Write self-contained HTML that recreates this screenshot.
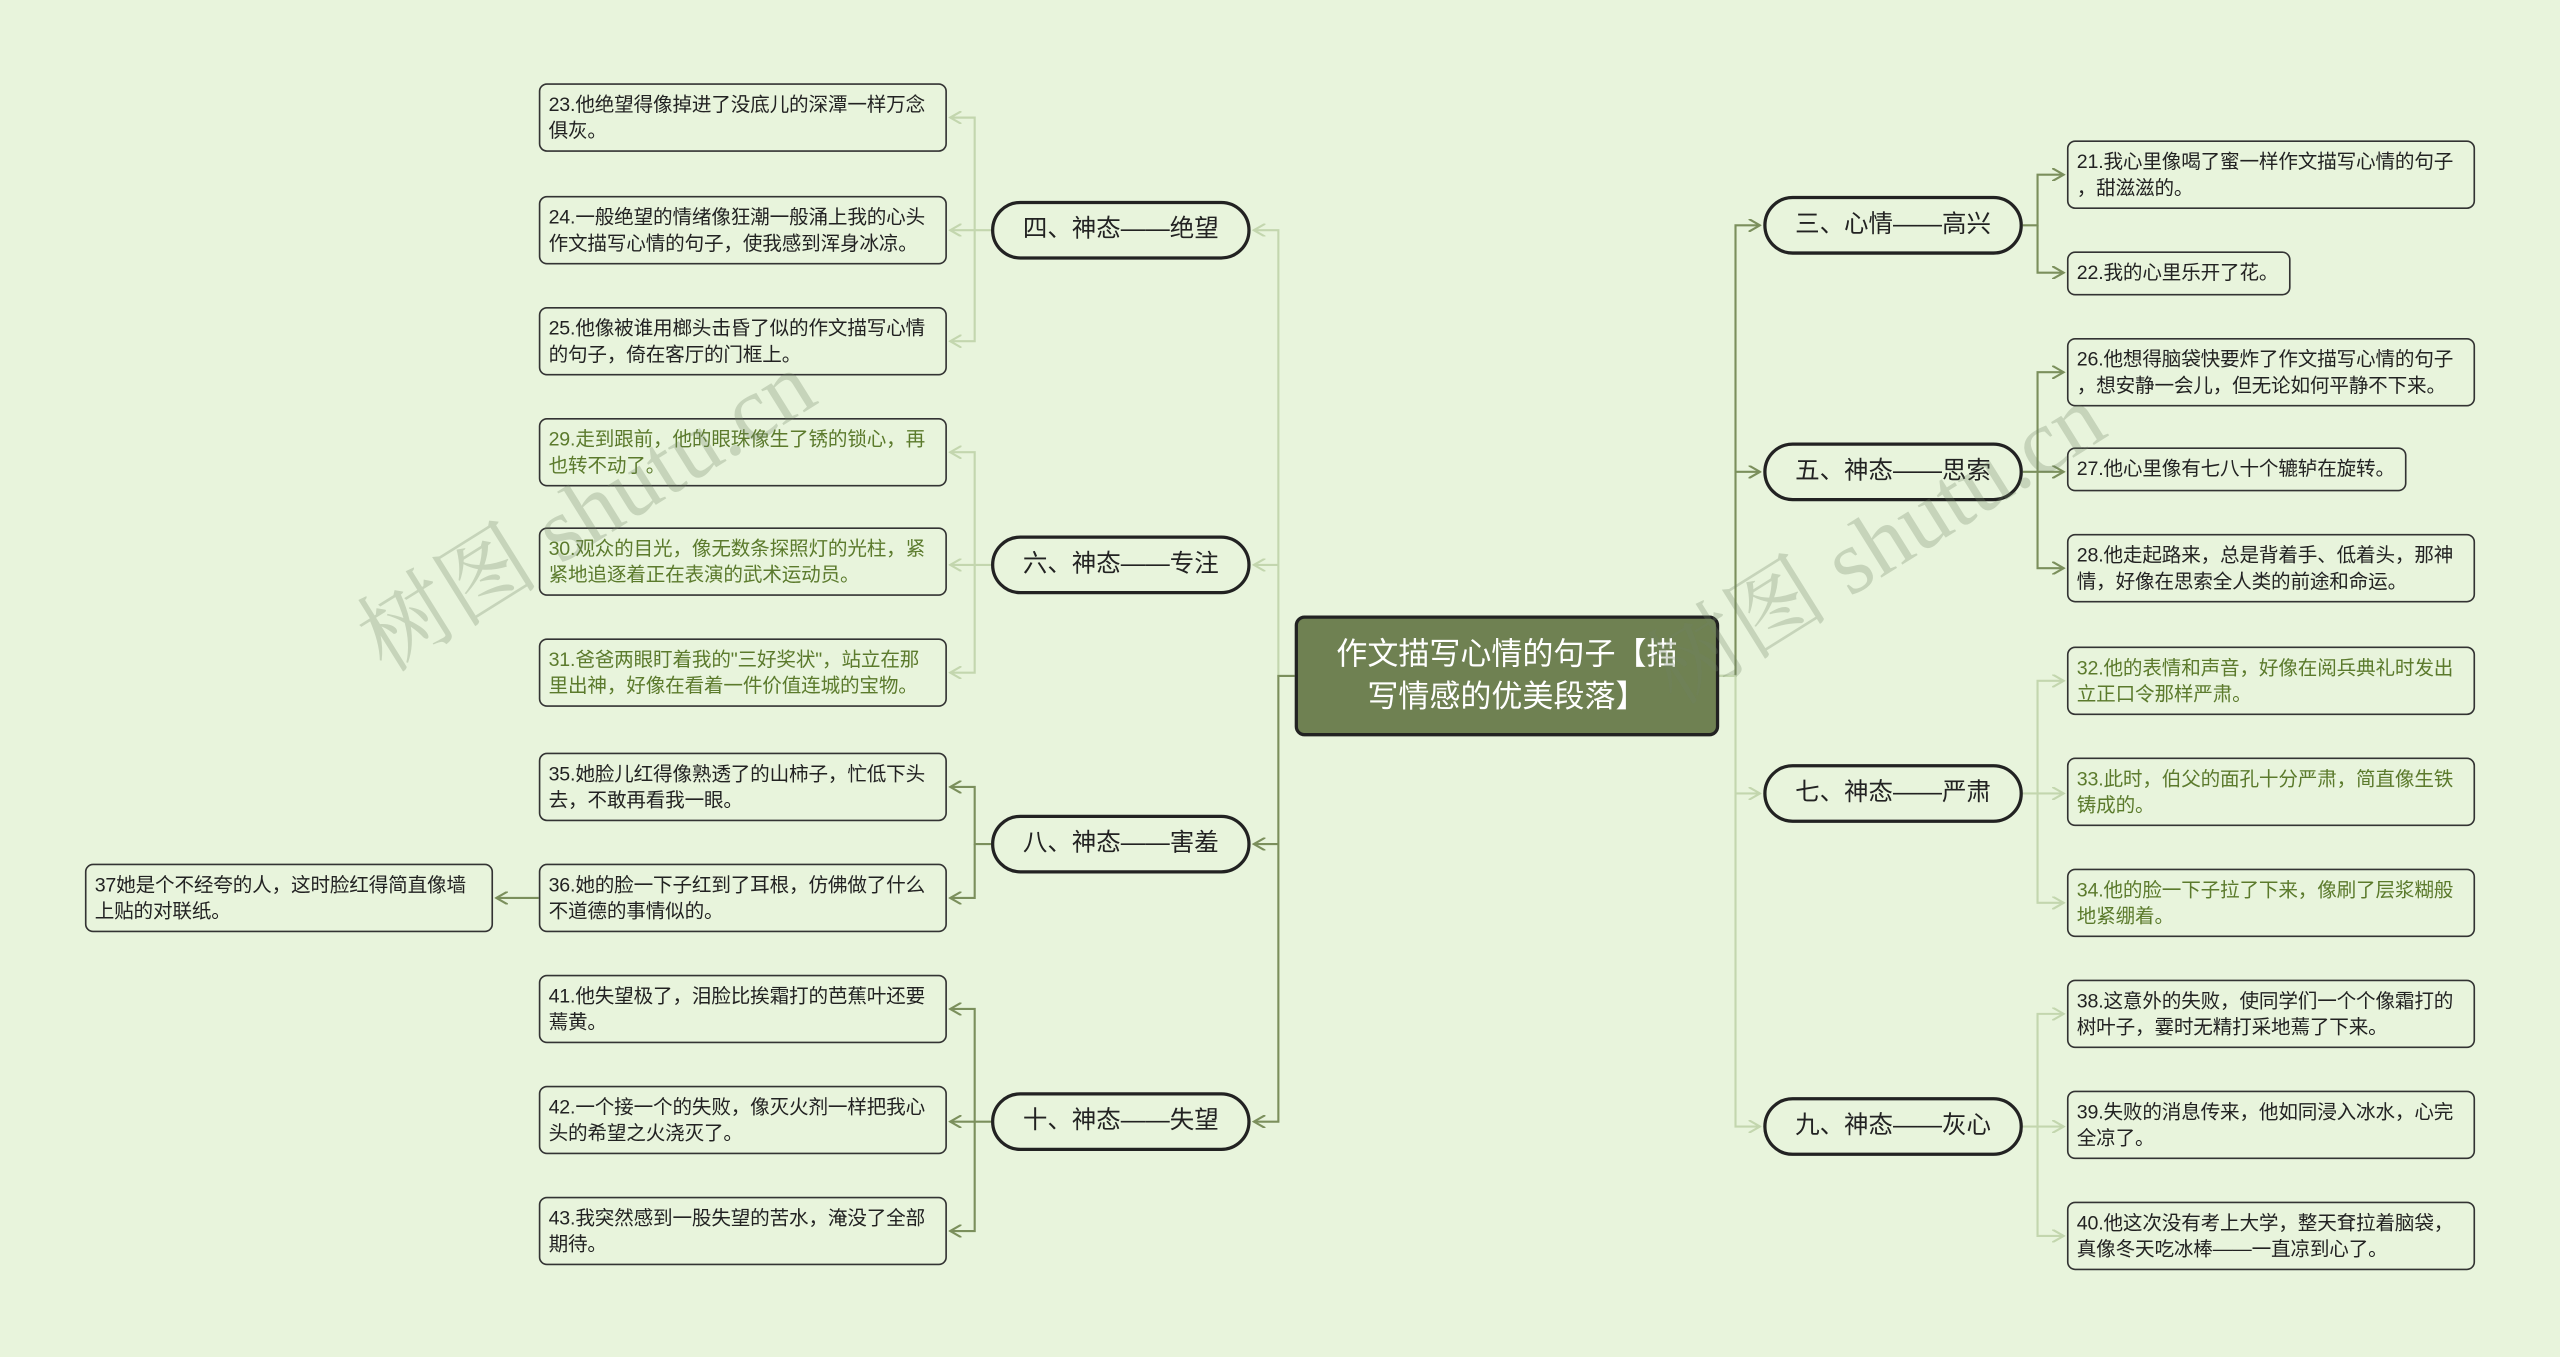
<!DOCTYPE html>
<html><head><meta charset="utf-8"><style>
html,body{margin:0;padding:0;background:#e8f4dc;overflow:hidden}
#w{position:absolute;left:0;top:0;width:1568px;height:831px;transform:scale(1.63265);transform-origin:0 0;font-family:"Liberation Sans","Noto Sans CJK SC",sans-serif}
.l{position:absolute;box-sizing:border-box;border:1.3px solid #333;border-radius:5px;background:#e8f4dc;font-size:12px;line-height:15.5px;padding:5px 5px;color:#222;width:250px;height:42px;white-space:nowrap;letter-spacing:-0.1px}
.g{color:#5b7a2c}
.p{position:absolute;box-sizing:border-box;border:2px solid #222;border-radius:18px;width:159px;height:36px;font-size:15px;line-height:32px;text-align:center;color:#222;background:#e8f4dc}
.c{position:absolute;left:793px;top:377px;width:260px;height:74px;box-sizing:border-box;border:2px solid #222;border-radius:6px;background:#6f8152;color:#fff;font-size:19px;line-height:26px;text-align:center;padding-top:10px}
.wm{position:absolute;font-size:56px;color:rgba(110,130,100,0.28);transform:rotate(-32deg);white-space:nowrap;font-family:"Liberation Serif","Noto Serif CJK SC",serif}
svg{position:absolute;left:0;top:0}
</style></head><body><div id="w">
<svg width="1568" height="831">
<defs>
<marker id="a1" markerWidth="8" markerHeight="8" refX="7" refY="4" orient="auto" markerUnits="userSpaceOnUse"><path d="M0,0L7,4L0,8" fill="none" stroke="#c3d6ae" stroke-width="1.3"/></marker>
<marker id="a2" markerWidth="8" markerHeight="8" refX="7" refY="4" orient="auto" markerUnits="userSpaceOnUse"><path d="M0,0L7,4L0,8" fill="none" stroke="#7b8f5c" stroke-width="1.3"/></marker>
</defs>
<g fill="none" stroke-width="1.3">
<path d="M793,414H783V141H768" stroke="#c3d6ae" marker-end="url(#a1)"/>
<path d="M783,346H768" stroke="#c3d6ae" marker-end="url(#a1)"/>
<path d="M793,414H783V687H768" stroke="#7b8f5c" marker-end="url(#a2)"/>
<path d="M783,517H768" stroke="#7b8f5c" marker-end="url(#a2)"/>
<path d="M1053,414H1063V138H1078" stroke="#7b8f5c" marker-end="url(#a2)"/>
<path d="M1063,289H1078" stroke="#7b8f5c" marker-end="url(#a2)"/>
<path d="M1053,414H1063V690H1078" stroke="#c3d6ae" marker-end="url(#a1)"/>
<path d="M1063,486H1078" stroke="#c3d6ae" marker-end="url(#a1)"/>
<path d="M607,141H597V72H582M597,141V209H582" stroke="#c3d6ae" marker-end="url(#a1)"/>
<path d="M597,72H582" stroke="#c3d6ae" marker-end="url(#a1)"/>
<path d="M597,141H582" stroke="#c3d6ae" marker-end="url(#a1)"/>
<path d="M607,346H597V277H582" stroke="#c3d6ae" marker-end="url(#a1)"/>
<path d="M597,346H582" stroke="#c3d6ae" marker-end="url(#a1)"/>
<path d="M597,346V412H582" stroke="#c3d6ae" marker-end="url(#a1)"/>
<path d="M607,517H597V482H582" stroke="#7b8f5c" marker-end="url(#a2)"/>
<path d="M597,517V550H582" stroke="#7b8f5c" marker-end="url(#a2)"/>
<path d="M330,550H304" stroke="#7b8f5c" marker-end="url(#a2)"/>
<path d="M607,687H597V618H582" stroke="#7b8f5c" marker-end="url(#a2)"/>
<path d="M597,687H582" stroke="#7b8f5c" marker-end="url(#a2)"/>
<path d="M597,687V754H582" stroke="#7b8f5c" marker-end="url(#a2)"/>
<path d="M1239,138H1248V107H1264" stroke="#7b8f5c" marker-end="url(#a2)"/>
<path d="M1248,138V167H1264" stroke="#7b8f5c" marker-end="url(#a2)"/>
<path d="M1239,289H1248V228H1264" stroke="#7b8f5c" marker-end="url(#a2)"/>
<path d="M1248,289H1264" stroke="#7b8f5c" marker-end="url(#a2)"/>
<path d="M1248,289V348H1264" stroke="#7b8f5c" marker-end="url(#a2)"/>
<path d="M1239,486H1248V417H1264" stroke="#c3d6ae" marker-end="url(#a1)"/>
<path d="M1248,486H1264" stroke="#c3d6ae" marker-end="url(#a1)"/>
<path d="M1248,486V553H1264" stroke="#c3d6ae" marker-end="url(#a1)"/>
<path d="M1239,690H1248V621H1264" stroke="#c3d6ae" marker-end="url(#a1)"/>
<path d="M1248,690H1264" stroke="#c3d6ae" marker-end="url(#a1)"/>
<path d="M1248,690V757H1264" stroke="#c3d6ae" marker-end="url(#a1)"/>
</g></svg>

<div class="c">作文描写心情的句子【描<br>写情感的优美段落】</div>

<div class="p" style="left:607px;top:123px">四、神态——绝望</div>
<div class="p" style="left:607px;top:328px">六、神态——专注</div>
<div class="p" style="left:607px;top:499px">八、神态——害羞</div>
<div class="p" style="left:607px;top:669px">十、神态——失望</div>
<div class="p" style="left:1080px;top:120px">三、心情——高兴</div>
<div class="p" style="left:1080px;top:271px">五、神态——思索</div>
<div class="p" style="left:1080px;top:468px">七、神态——严肃</div>
<div class="p" style="left:1080px;top:672px">九、神态——灰心</div>

<div class="l" style="left:330px;top:51px">23.他绝望得像掉进了没底儿的深潭一样万念<br>俱灰。</div>
<div class="l" style="left:330px;top:120px">24.一般绝望的情绪像狂潮一般涌上我的心头<br>作文描写心情的句子，使我感到浑身冰凉。</div>
<div class="l" style="left:330px;top:188px">25.他像被谁用榔头击昏了似的作文描写心情<br>的句子，倚在客厅的门框上。</div>
<div class="l g" style="left:330px;top:256px">29.走到跟前，他的眼珠像生了锈的锁心，再<br>也转不动了。</div>
<div class="l g" style="left:330px;top:323px">30.观众的目光，像无数条探照灯的光柱，紧<br>紧地追逐着正在表演的武术运动员。</div>
<div class="l g" style="left:330px;top:391px">31.爸爸两眼盯着我的"三好奖状"，站立在那<br>里出神，好像在看着一件价值连城的宝物。</div>
<div class="l" style="left:330px;top:461px">35.她脸儿红得像熟透了的山柿子，忙低下头<br>去，不敢再看我一眼。</div>
<div class="l" style="left:330px;top:529px">36.她的脸一下子红到了耳根，仿佛做了什么<br>不道德的事情似的。</div>
<div class="l" style="left:52px;top:529px">37她是个不经夸的人，这时脸红得简直像墙<br>上贴的对联纸。</div>
<div class="l" style="left:330px;top:597px">41.他失望极了，泪脸比挨霜打的芭蕉叶还要<br>蔫黄。</div>
<div class="l" style="left:330px;top:665px">42.一个接一个的失败，像灭火剂一样把我心<br>头的希望之火浇灭了。</div>
<div class="l" style="left:330px;top:733px">43.我突然感到一股失望的苦水，淹没了全部<br>期待。</div>

<div class="l" style="left:1266px;top:86px">21.我心里像喝了蜜一样作文描写心情的句子<br>，甜滋滋的。</div>
<div class="l" style="left:1266px;top:154px;width:137px;height:27px">22.我的心里乐开了花。</div>
<div class="l" style="left:1266px;top:207px">26.他想得脑袋快要炸了作文描写心情的句子<br>，想安静一会儿，但无论如何平静不下来。</div>
<div class="l" style="left:1266px;top:274px;width:208px;height:27px">27.他心里像有七八十个辘轳在旋转。</div>
<div class="l" style="left:1266px;top:327px">28.他走起路来，总是背着手、低着头，那神<br>情，好像在思索全人类的前途和命运。</div>
<div class="l g" style="left:1266px;top:396px">32.他的表情和声音，好像在阅兵典礼时发出<br>立正口令那样严肃。</div>
<div class="l g" style="left:1266px;top:464px">33.此时，伯父的面孔十分严肃，简直像生铁<br>铸成的。</div>
<div class="l g" style="left:1266px;top:532px">34.他的脸一下子拉了下来，像刷了层浆糊般<br>地紧绷着。</div>
<div class="l" style="left:1266px;top:600px">38.这意外的失败，使同学们一个个像霜打的<br>树叶子，霎时无精打采地蔫了下来。</div>
<div class="l" style="left:1266px;top:668px">39.失败的消息传来，他如同浸入冰水，心完<br>全凉了。</div>
<div class="l" style="left:1266px;top:736px">40.他这次没有考上大学，整天耷拉着脑袋，<br>真像冬天吃冰棒——一直凉到心了。</div>

<div class="wm" style="left:200px;top:270px">树图 shutu.cn</div>
<div class="wm" style="left:990px;top:290px">树图 shutu.cn</div>
</div></body></html>
